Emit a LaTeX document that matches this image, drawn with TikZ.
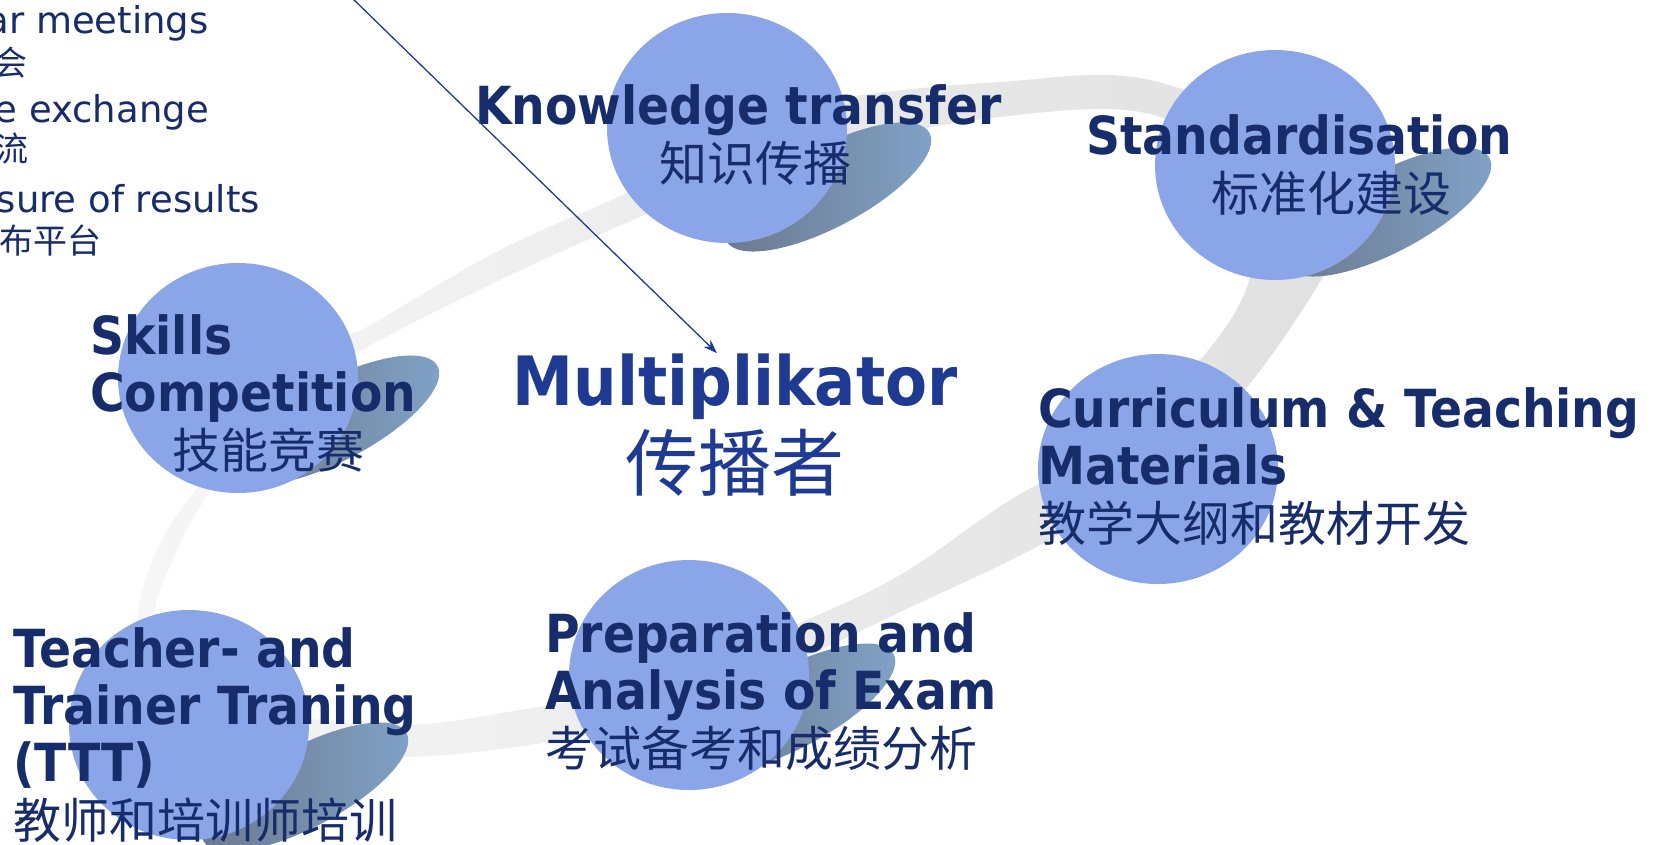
\documentclass[tikz,border=0pt]{standalone}
\usepackage{fontspec}
\setmainfont{DejaVu Sans}
\newfontfamily\lblfont{DejaVu Sans}[FakeStretch=0.9]
\newfontfamily\zhfont{Noto Sans CJK SC}
\usetikzlibrary{arrows.meta,shapes.geometric}

\definecolor{ballblue}{RGB}{139,166,232}
\definecolor{navytext}{RGB}{23,44,107}
\definecolor{hubblue}{RGB}{31,58,147}
\definecolor{shadowdark}{RGB}{108,120,140}
\definecolor{shadowlight}{RGB}{128,163,200}

% chinese lines
\newcommand{\zh}[1]{{\zhfont\mdseries\fontsize{48}{57}\selectfont #1}}
\newcommand{\zhs}[1]{{\zhfont\mdseries\fontsize{34}{44}\selectfont #1}}

\begin{document}
\begin{tikzpicture}[x=1pt,y=-1pt,
    ball/.style={ellipse, fill=ballblue, minimum width=240, minimum height=230, inner sep=0},
    ballshadow/.style={left color=shadowdark, right color=shadowlight},
    lbl/.style={text=navytext, font=\lblfont\bfseries\fontsize{52.5}{57}\selectfont,
        align=left, anchor=base west, inner sep=0},
    topnote/.style={text=navytext, font=\fontsize{37}{44}\selectfont, anchor=base east, inner sep=0}]

    \useasboundingbox (0,0) rectangle (1666,844);

    % grey ring behind the balls
    \shade[even odd rule, left color=gray!7, right color=gray!24]
        plot[smooth cycle, tension=0.6] coordinates {(330,345) (367,327) (500,250) (633,190) (760,125)
            (843,98) (1000,82) (1150,80) (1300,150) (1335,240) (1323,277) (1247,387) (1160,470)
            (1040,545) (900,612) (807,657) (700,712) (550,742) (400,757) (250,745) (150,670)
            (138,613) (157,550) (183,507) (230,450)}
        plot[smooth cycle, tension=0.6] coordinates {(367,347) (500,280) (633,220) (780,160)
            (1000,117) (1160,117) (1240,200) (1250,277) (1200,360) (1100,450) (1010,500)
            (900,575) (800,623) (650,690) (550,705) (400,725) (250,705) (175,645) (155,613)
            (177,550) (200,507) (240,450) (300,390)};

    % shadows
    \shade[ballshadow, rotate around={28:(828,187)}] (828,187) ellipse [x radius=115, y radius=40];
    \shade[ballshadow, rotate around={28:(1388,212)}] (1388,212) ellipse [x radius=115, y radius=40];
    \shade[ballshadow, rotate around={28:(336,420)}] (336,420) ellipse [x radius=115, y radius=40];
    \shade[ballshadow, rotate around={28:(792,708)}] (792,708) ellipse [x radius=115, y radius=40];
    \shade[ballshadow, rotate around={28:(305,787)}] (305,787) ellipse [x radius=115, y radius=40];

    % balls
    \node[ball] (kt) at (727,128) {};
    \node[ball] (st) at (1275,165) {};
    \node[ball] (sk) at (238,378) {};
    \node[ball] (cu) at (1158,469) {};
    \node[ball] (pr) at (689,675) {};
    \node[ball] (tt) at (189,725) {};

    % labels (anchored at the baseline of their last line)
    \node[lbl] (ktl) at (475,181) {Knowledge transfer\\\hspace*{184pt}\zh{知识传播}};
    \node[lbl] (stl) at (1086,211) {Standardisation\\\hspace*{125pt}\zh{标准化建设}};
    \node[lbl] (skl) at (90,468) {Skills\\Competition\\\hspace*{82pt}\zh{技能竞赛}};
    \node[lbl] (cul) at (1038,541) {Curriculum \& Teaching\\Materials\\\zh{教学大纲和教材开发}};
    \node[lbl] (prl) at (545,766) {Preparation and\\Analysis of Exam\\\zh{考试备考和成绩分析}};
    \node[lbl] (ttl) at (13,838) {Teacher- and\\Trainer Traning\\(TTT)\\\zh{教师和培训师培训}};

    \node[text=hubblue, font=\lblfont\bfseries\fontsize{68}{85}\selectfont, align=center,
        anchor=base, inner sep=0] (hub) at (735,490)
        {Multiplikator\\{\zhfont\mdseries\fontsize{73}{85}\selectfont 传播者}};

    % cut-off list top left
    \foreach \txt/\xr/\yb in {ar meetings/209/33, \zhs{会}/28/75, e exchange/209/122,
        \zhs{流}/29/161, sure of results/260/212, \zhs{布平台}/102/253}
        \node[topnote] at (\xr,\yb) {\txt};

    \coordinate (src) at (351,-3);
    \draw[hubblue, line width=1.3, -{Stealth[length=14,width=10]}] (src) -- ([xshift=-18pt]hub.north);

\end{tikzpicture}
\end{document}
